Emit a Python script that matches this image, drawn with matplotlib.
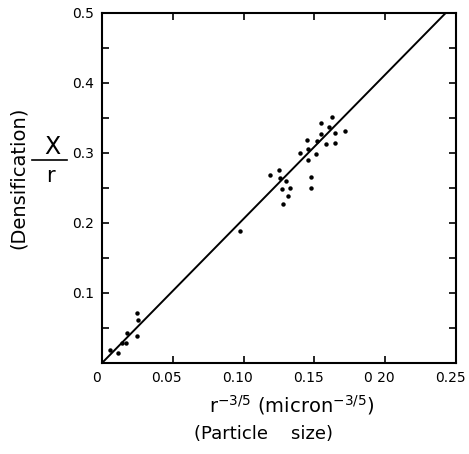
import numpy as np
import matplotlib.pyplot as plt
import matplotlib.transforms as mtransforms
from matplotlib.lines import Line2D

# --- data ---
x_low = [0.0056, 0.0115, 0.0139, 0.0169, 0.0180, 0.0244, 0.0256, 0.0245]
y_low = [0.018, 0.014, 0.029, 0.028, 0.043, 0.038, 0.062, 0.072]

x_mid = [0.0977, 0.1184, 0.1248, 0.1255, 0.1302, 0.1271, 0.1325, 0.1313,
         0.1278, 0.1478, 0.1478, 0.1396, 0.1450, 0.1454, 0.1454, 0.1513,
         0.1520, 0.1548, 0.1548, 0.1579, 0.1602, 0.1624, 0.1649, 0.1649,
         0.1713]
y_mid = [0.188, 0.268, 0.276, 0.264, 0.260, 0.248, 0.250, 0.239,
         0.227, 0.266, 0.250, 0.300, 0.319, 0.306, 0.290, 0.299,
         0.317, 0.343, 0.327, 0.313, 0.337, 0.351, 0.329, 0.315,
         0.332]

fit_slope = 2.06
x_ticks = [0, 0.05, 0.10, 0.15, 0.20, 0.25]
x_ticklabels = ['0', '0.05', '0.10', '0.15', '0 20', '0.25']
y_ticks = [0.1, 0.2, 0.3, 0.4, 0.5]
y_ticklabels = ['0.1', '0.2', '0.3', '0.4', '0.5']

# --- figure ---
fig = plt.figure(figsize=(4.69, 4.54), dpi=100)
ax = fig.add_axes([102/469, 1 - 363/454, 354/469, 350/454])

xs = np.array(x_low + x_mid)
ys = np.array(y_low + y_mid)
ax.plot(xs, ys, 'o', color='black', markersize=3.2, markeredgewidth=0)

xl = np.array([0, 0.5 / fit_slope])
ax.plot(xl, fit_slope * xl, color='black', linewidth=1.4)

ax.set_xlim(0, 0.25)
ax.set_ylim(0, 0.5)

ax.set_xticks(x_ticks)
ax.set_xticklabels(x_ticklabels)
ax.set_yticks(np.arange(0.05, 0.5, 0.05), minor=True)
ax.set_yticks(y_ticks)
ax.set_yticklabels(y_ticklabels)

ax.tick_params(which='both', direction='in', top=True, right=True,
               length=5, width=1.2, labelsize=10, pad=6)
ax.tick_params(which='minor', length=5)
for sp in ax.spines.values():
    sp.set_linewidth(1.5)

# x tick labels sit a little left of their ticks in the original
shift = mtransforms.ScaledTranslation(-6/100, 0, fig.dpi_scale_trans)
for lab in ax.get_xticklabels():
    lab.set_transform(lab.get_transform() + shift)

# axis labels
fig.text(292/469, 1 - 405/454, r'r$^{-3/5}$ (micron$^{-3/5}$)',
         ha='center', va='center', fontsize=14)
fig.text(263/469, 1 - 434/454, '(Particle    size)',
         ha='center', va='center', fontsize=13)

fig.text(18/469, 1 - 178/454, '(Densification)', rotation=90,
         ha='center', va='center', fontsize=14)
fig.text(52/469, 1 - 147/454, 'X', ha='center', va='center', fontsize=17)
fig.add_artist(Line2D([32/469, 67/469], [1 - 160/454, 1 - 160/454],
                      color='black', linewidth=1.2))
fig.text(50/469, 1 - 176/454, 'r', ha='center', va='center', fontsize=15)

fig.savefig('out.png', dpi=100)
